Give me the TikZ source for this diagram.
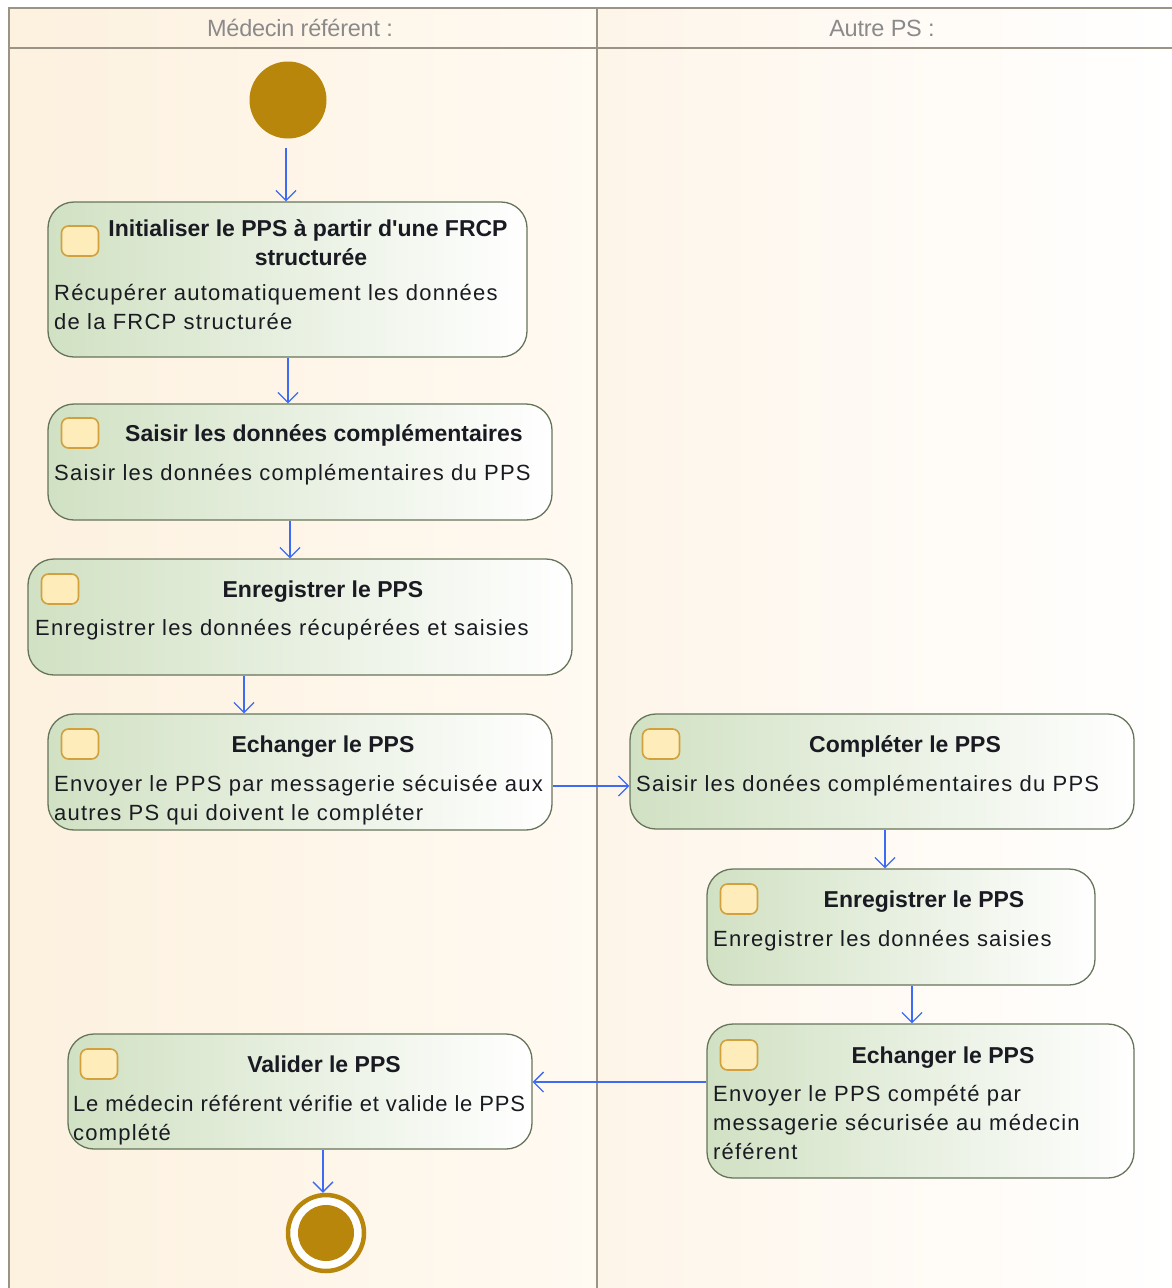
\documentclass[tikz,border=0pt]{standalone}
\usepackage{fontspec}
\setmainfont{Liberation Sans}
\newfontfamily\descfont[LetterSpace=5.5]{Liberation Sans}
\newfontfamily\descfontn[LetterSpace=3.8]{Liberation Sans}
\newfontfamily\headfont[LetterSpace=-1]{Liberation Sans}
\usetikzlibrary{arrows.meta,calc}
\definecolor{goldc}{HTML}{B8860B}
\definecolor{laneAL}{HTML}{FDF1DF}
\definecolor{laneAR}{HTML}{FFFAF2}
\definecolor{laneBL}{HTML}{FEF5E9}
\definecolor{laneBR}{HTML}{FFFFFF}
\definecolor{framec}{HTML}{9A9386}
\definecolor{boxL}{HTML}{D1E1C3}
\definecolor{boxB}{HTML}{66755A}
\definecolor{iconF}{HTML}{FEEDBB}
\definecolor{iconB}{HTML}{D2A03C}
\definecolor{flowc}{HTML}{3D6BF5}
\definecolor{headc}{HTML}{8A8A8A}
\definecolor{txtc}{HTML}{1A1A22}
\begin{document}
\begin{tikzpicture}[x=1pt,y=-1pt,
  actbox/.style={draw=boxB, line width=1.3pt, rounded corners=26pt, left color=boxL, right color=white, inner sep=0pt},
  actico/.style={draw=iconB, line width=1.6pt, rounded corners=7pt, fill=iconF, minimum width=37pt, minimum height=30pt, inner sep=0pt},
  ttl/.style={anchor=base, inner sep=0pt, text=txtc, font=\fontsize{23}{29}\selectfont\bfseries},
  dsc/.style={anchor=base west, inner sep=0pt, text=txtc, font=\fontsize{22}{29}\selectfont\descfont},
  hdr/.style={inner sep=0pt, text=headc, font=\fontsize{23.5}{29}\selectfont\headfont},
  flow/.style={draw=flowc, line width=1.3pt, -{Straight Barb[length=10pt,width=20pt,line width=1.3pt]}},
  frm/.style={draw=framec, line width=2pt}
]
\useasboundingbox (0,0) rectangle (1172,1288);
% lanes
\fill[left color=laneAL, right color=laneAR] (9,8) rectangle (597,1288);
\fill[left color=laneBL, right color=laneBR] (597,8) rectangle (1172,1288);
\draw[frm] (1172,8) -- (9,8) -- (9,1288);
\draw[frm] (9,48) -- (1172,48);
\draw[frm] (597,8) -- (597,1288);
\node[hdr] (h1) at (300,28) {Médecin référent :};
\node[hdr] (h2) at (882,28) {Autre PS :};

% start
\node[circle, fill=goldc, minimum size=77pt, inner sep=0pt] (start) at (288,100) {};

% boxes
\node[actbox, minimum width=479pt, minimum height=155pt] (b1) at (287.5,279.5) {};
\node[actbox, minimum width=504pt, minimum height=116pt] (b2) at (300,462) {};
\node[actbox, minimum width=544pt, minimum height=116pt] (b3) at (300,617) {};
\node[actbox, minimum width=504pt, minimum height=116pt] (b4) at (300,772) {};
\node[actbox, minimum width=504pt, minimum height=115pt] (b5) at (882,771.5) {};
\node[actbox, minimum width=388pt, minimum height=116pt] (b6) at (901,927) {};
\node[actbox, minimum width=427pt, minimum height=154pt] (b7) at (920.5,1101) {};
\node[actbox, minimum width=464pt, minimum height=115pt] (b8) at (300,1091.5) {};

% icons
\node[actico] (i1) at (80,241) {};
\node[actico] (i2) at (80,433) {};
\node[actico] (i3) at (60,589) {};
\node[actico] (i4) at (80,744) {};
\node[actico] (i5) at (661,744) {};
\node[actico] (i6) at (739,899) {};
\node[actico] (i7) at (739,1055) {};
\node[actico] (i8) at (99,1064) {};

% texts box1
\node[ttl] (t1a) at (308,236) {Initialiser le PPS à partir d\textquotesingle une FRCP};
\node[ttl] (t1b) at (311,265) {structurée};
\node[dsc] (d1a) at (54,300) {Récupérer automatiquement les données};
\node[dsc] (d1b) at (54,329) {de la FRCP structurée};
% box2
\node[ttl] (t2) at (324,441) {Saisir les données complémentaires};
\node[dsc] (d2) at (54,480) {Saisir les données complémentaires du PPS};
% box3
\node[ttl] (t3) at (323,597) {Enregistrer le PPS};
\node[dsc] (d3) at (35,635) {Enregistrer les données récupérées et saisies};
% box4
\node[ttl] (t4) at (323,752) {Echanger le PPS};
\node[dsc] (d4a) at (54,791) {Envoyer le PPS par messagerie sécuisée aux};
\node[dsc] (d4b) at (54,820) {autres PS qui doivent le compléter};
% box5
\node[ttl] (t5) at (905,752) {Compléter le PPS};
\node[dsc] (d5) at (636,791) {Saisir les donées complémentaires du PPS};
% box6
\node[ttl] (t6) at (924,907) {Enregistrer le PPS};
\node[dsc] (d6) at (713,946) {Enregistrer les données saisies};
% box7
\node[ttl] (t7) at (943,1063) {Echanger le PPS};
\node[dsc] (d7a) at (713,1101) {Envoyer le PPS compété par};
\node[dsc] (d7b) at (713,1130) {messagerie sécurisée au médecin};
\node[dsc] (d7c) at (713,1159) {référent};
% box8
\node[ttl] (t8) at (324,1072) {Valider le PPS};
\node[dsc, font=\fontsize{22}{29}\selectfont\descfontn] (d8a) at (73,1111) {Le médecin référent vérifie et valide le PPS};
\node[dsc] (d8b) at (73,1140) {complété};

% end
\node[circle, draw=goldc, line width=4.5pt, fill=white, minimum size=76pt, inner sep=0pt] (end) at (326,1233) {};
\node[circle, fill=goldc, minimum size=56pt, inner sep=0pt] (endin) at (326,1233) {};

% connector guides
\coordinate (x1) at (286,0);
\coordinate (x2) at (288,0);
\coordinate (x3) at (290,0);
\coordinate (x4) at (244,0);
\coordinate (x5) at (885,0);
\coordinate (x6) at (912,0);
\coordinate (x7) at (323,0);
\coordinate (y1) at (0,786);
\coordinate (y2) at (0,1082);

\draw[flow, shorten <=9pt] (start.south -| x1) -- (b1.north -| x1);
\draw[flow] (b1.south -| x2) -- (b2.north -| x2);
\draw[flow] (b2.south -| x3) -- (b3.north -| x3);
\draw[flow] (b3.south -| x4) -- (b4.north -| x4);
\draw[flow] (b4.east |- y1) -- (b5.west |- y1);
\draw[flow] (b5.south -| x5) -- (b6.north -| x5);
\draw[flow] (b6.south -| x6) -- (b7.north -| x6);
\draw[flow] (b7.west |- y2) -- (b8.east |- y2);
\draw[flow] (b8.south -| x7) -- (end.north -| x7);
\end{tikzpicture}
\end{document}
